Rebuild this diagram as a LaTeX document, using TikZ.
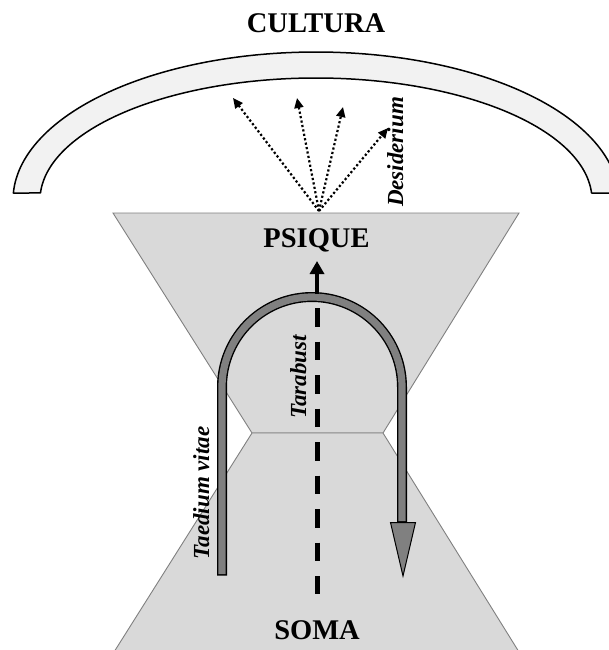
\documentclass[tikz,border=0pt]{standalone}
\usepackage{fontspec}
\setmainfont{Liberation Serif}
\usetikzlibrary{arrows.meta}
\definecolor{hgfill}{HTML}{D9D9D9}
\definecolor{hgline}{HTML}{808080}
\definecolor{arcfill}{HTML}{F2F2F2}
\definecolor{uarrow}{HTML}{808080}
\begin{document}
\begin{tikzpicture}[x=1pt,y=-1pt,
  bigtitle/.style={font=\bfseries\fontsize{28.5}{30}\selectfont, inner sep=0pt, anchor=base},
  sidelabel/.style={font=\bfseries\itshape\fontsize{23}{24}\selectfont, inner sep=0pt, anchor=base, rotate=90},
  dotarrow/.style={line width=2.2pt, dash pattern=on 2.2pt off 2.3pt, -{Triangle[width=9pt,length=10pt]}},
  hourglass/.style={fill=hgfill, draw=hgline, line width=0.9pt},
]
\useasboundingbox (0,0) rectangle (609,650);
\fill[white] (0,0) rectangle (609,650);

% arch (CULTURA)
\draw[fill=arcfill, line width=1.5pt, line join=round]
  plot[domain=182.7:357.3, samples=120] ({316+303*cos(\x)},{200+148*sin(\x)})
  -- (592,193)
  -- plot[domain=356.7:183.3, samples=120] ({316+276*cos(\x)},{200+122*sin(\x)})
  -- cycle;

% hourglass
\draw[hourglass] (113,213) -- (519,213) -- (383,433) -- (252,433) -- cycle;
\draw[hourglass] (252,433) -- (383,433) -- (519,652) -- (114,652) -- cycle;

% desire arrows
\coordinate (o) at (319,211);
\coordinate (t1) at (233,98);
\coordinate (t2) at (297,98);
\coordinate (t3) at (343,107);
\coordinate (t4) at (388,128);
\foreach \t in {t1,t2,t3,t4} \draw[dotarrow] (o) -- (\t);

% U-shaped arrow
\coordinate (ustart) at (222,574);
\coordinate (uend) at (402,523);
\draw[line width=10pt, black]
  (222,575.5) -- plot[domain=180:360, samples=80] ({312+90*cos(\x)},{387+90*sin(\x)}) -- (uend);
\draw[line width=7.2pt, uarrow]
  (ustart) -- plot[domain=180:360, samples=80] ({312+90*cos(\x)},{387+90*sin(\x)}) -- (402,521);
\draw[fill=uarrow, draw=black, line width=1pt, line join=miter] (390.5,522.5) -- (415.5,522.5) -- (403,576) -- cycle;

% Tarabust axis
\coordinate (dtop) at (317,308);
\coordinate (dbot) at (317,594);
\draw[line width=5pt, dash pattern=on 18.5pt off 15pt] (dtop) -- (dbot);
\coordinate (atail) at (317,294);
\coordinate (ahead) at (317,261);
\draw[line width=4pt, -{Triangle[width=14pt,length=13pt]}] (atail) -- (ahead);

% texts
\node[bigtitle] (cultura) at (316,33) {CULTURA};
\node[bigtitle] (psique) at (316.5,247) {PSIQUE};
\node[bigtitle] (soma) at (317,639) {SOMA};
\node[sidelabel] (desid) at (403,152) {Desiderium};
\node[sidelabel] (tarab) at (306,377) {Tarabust};
\node[sidelabel] (taed) at (209,493) {Taedium vitae};
\end{tikzpicture}
\end{document}
